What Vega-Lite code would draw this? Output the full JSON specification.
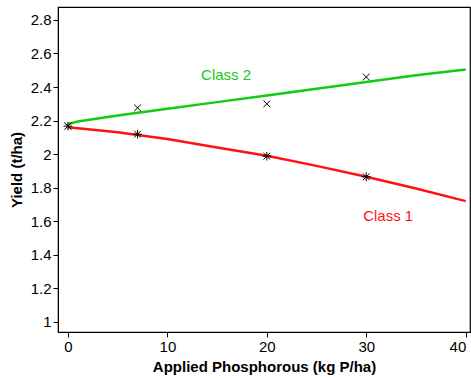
{
  "$schema": "https://vega.github.io/schema/vega-lite/v6.json",
  "autosize": "none",
  "width": 412,
  "height": 325,
  "padding": {"left": 58, "top": 7, "right": 1, "bottom": 46},
  "config": {
    "font": "Liberation Sans",
    "view": {"stroke": "black", "strokeWidth": 1.2},
    "axis": {"grid": false, "domainColor": "black", "tickColor": "black", "labelColor": "black", "titleColor": "black", "labelFontSize": 15, "titleFontSize": 15, "titleFontWeight": "bold", "tickSize": 5, "labelPadding": 2, "labelFont": "Liberation Sans", "titleFont": "Liberation Sans"}
  },
  "datasets": {
    "curves": [
      {"P": 0, "Yield": 2.16, "Class": "Class 1"},
      {"P": 5, "Yield": 2.13, "Class": "Class 1"},
      {"P": 10, "Yield": 2.09, "Class": "Class 1"},
      {"P": 15, "Yield": 2.04, "Class": "Class 1"},
      {"P": 20, "Yield": 1.99, "Class": "Class 1"},
      {"P": 25, "Yield": 1.93, "Class": "Class 1"},
      {"P": 30, "Yield": 1.865, "Class": "Class 1"},
      {"P": 35, "Yield": 1.795, "Class": "Class 1"},
      {"P": 40, "Yield": 1.72, "Class": "Class 1"},
      {"P": 0, "Yield": 2.18, "Class": "Class 2"},
      {"P": 1, "Yield": 2.195, "Class": "Class 2"},
      {"P": 5, "Yield": 2.23, "Class": "Class 2"},
      {"P": 10, "Yield": 2.27, "Class": "Class 2"},
      {"P": 15, "Yield": 2.31, "Class": "Class 2"},
      {"P": 20, "Yield": 2.35, "Class": "Class 2"},
      {"P": 25, "Yield": 2.39, "Class": "Class 2"},
      {"P": 30, "Yield": 2.43, "Class": "Class 2"},
      {"P": 35, "Yield": 2.47, "Class": "Class 2"},
      {"P": 40, "Yield": 2.505, "Class": "Class 2"}
    ],
    "obs": [
      {"P": 0, "Yield": 2.167, "Class": "Class 1"},
      {"P": 7, "Yield": 2.119, "Class": "Class 1"},
      {"P": 20, "Yield": 1.988, "Class": "Class 1"},
      {"P": 30, "Yield": 1.865, "Class": "Class 1"},
      {"P": 0, "Yield": 2.167, "Class": "Class 2"},
      {"P": 7, "Yield": 2.276, "Class": "Class 2"},
      {"P": 20, "Yield": 2.30, "Class": "Class 2"},
      {"P": 30, "Yield": 2.46, "Class": "Class 2"}
    ],
    "labels": [
      {"P": 15.9, "Yield": 2.47, "Class": "Class 2"},
      {"P": 32.2, "Yield": 1.63, "Class": "Class 1"}
    ]
  },
  "encoding": {
    "x": {"field": "P", "type": "quantitative", "title": "Applied Phosphorous (kg P/ha)", "scale": {"domain": [-1, 40.43], "nice": false, "zero": false}, "axis": {"values": [0, 10, 20, 30, 40], "titlePadding": 5, "labelAlign": {"condition": {"test": "datum.value == 40", "value": "right"}, "value": "center"}}},
    "y": {"field": "Yield", "type": "quantitative", "title": "Yield (t/ha)", "scale": {"domain": [0.94, 2.877], "nice": false, "zero": false}, "axis": {"values": [1, 1.2, 1.4, 1.6, 1.8, 2, 2.2, 2.4, 2.6, 2.8], "format": ".1~f", "titlePadding": 6}}
  },
  "layer": [
    {
      "data": {"name": "curves"},
      "mark": {"type": "line", "strokeWidth": 2.5},
      "encoding": {
        "color": {"field": "Class", "type": "nominal", "scale": {"domain": ["Class 1", "Class 2"], "range": ["#ff1111", "#11cc11"]}, "legend": null}
      }
    },
    {
      "data": {"name": "obs"},
      "mark": {"type": "point", "filled": false, "stroke": "black", "strokeWidth": 1, "size": 45, "opacity": 1},
      "encoding": {
        "shape": {"field": "Class", "type": "nominal", "scale": {"domain": ["Class 1", "Class 2"], "range": ["M-1,-1L1,1M-1,1L1,-1M0,-1.3L0,1.3M-1.3,0L1.3,0", "M-1,-1L1,1M-1,1L1,-1"]}, "legend": null}
      }
    },
    {
      "data": {"name": "labels"},
      "mark": {"type": "text", "fontSize": 15, "font": "Liberation Sans"},
      "encoding": {
        "text": {"field": "Class"},
        "color": {"field": "Class", "type": "nominal", "scale": {"domain": ["Class 1", "Class 2"], "range": ["#ff1111", "#11cc11"]}, "legend": null}
      }
    }
  ]
}
